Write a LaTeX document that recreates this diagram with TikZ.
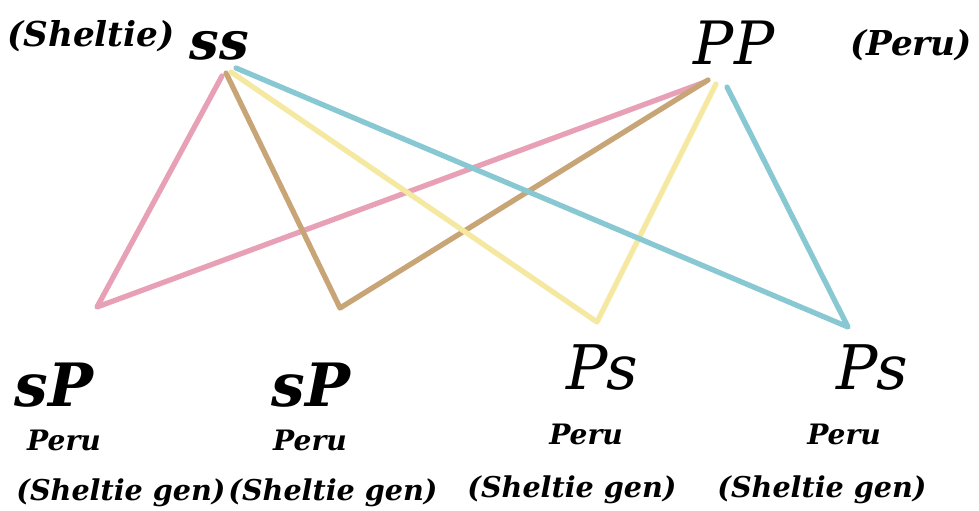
\documentclass[tikz,border=0pt]{standalone}
\usepackage{fontspec}
\setmainfont{DejaVu Serif}
\usepackage{xcolor}
\usetikzlibrary{positioning}

\definecolor{crossPink}{RGB}{232,160,182}
\definecolor{crossTan}{RGB}{200,165,118}
\definecolor{crossYellow}{RGB}{245,232,160}
\definecolor{crossBlue}{RGB}{135,200,210}

\begin{document}
\begin{tikzpicture}[
  x=0.02cm, y=-0.02cm,
  parent/.style ={font=\fontsize{30}{34}\selectfont\bfseries\itshape,inner sep=0pt},
  parentr/.style={font=\fontsize{34}{38}\selectfont\itshape,inner sep=0pt},
  child/.style  ={font=\fontsize{34}{38}\selectfont\bfseries\itshape,inner sep=0pt},
  childr/.style ={font=\fontsize{35}{38}\selectfont\itshape,inner sep=0pt},
  breed/.style  ={font=\fontsize{19.5}{24}\selectfont\bfseries\itshape,inner sep=0pt},
  look/.style   ={font=\fontsize{16}{19}\selectfont\bfseries\itshape,inner sep=0pt},
  gen/.style    ={font=\fontsize{16.3}{20}\selectfont\bfseries\itshape,inner sep=0pt},
  cross/.style  ={line width=3pt,line cap=round,line join=round}]

\fill[white] (0,0) rectangle (979,510);
\useasboundingbox (0,0) rectangle (979,510);

%---------------- parents ----------------
\node[breed]   (sheltie) at (91,36)  {(Sheltie)};
\node[parent]  (ss)      at (219,46) {ss};
\node[parentr] (PP)      at (734,43) {PP};
\node[breed]   (peru)    at (911,45) {(Peru)};

%---------------- offspring ----------------
\node[child]  (c1) at (54,385)  {sP};
\node[child]  (c2) at (311,385) {sP};
\node[childr] (c3) at (602,368) {Ps};
\node[childr] (c4) at (872,368) {Ps};

\node[look] (look1) at (64,440)  {Peru};
\node[look] (look2) at (310,440) {Peru};
\node[look] (look3) at (586,434) {Peru};
\node[look] (look4) at (844,434) {Peru};

\node[gen] (gen1) at (121,493) {(Sheltie gen)};
\node[gen] (gen2) at (333,493) {(Sheltie gen)};
\node[gen] (gen3) at (572,490) {(Sheltie gen)};
\node[gen] (gen4) at (822,490) {(Sheltie gen)};

%---------------- crossing lines ----------------
\coordinate (ss1) at (222,76);  \coordinate (pp1) at (705,82);  \coordinate (v1) at (97,307);
\coordinate (ss2) at (226,73);  \coordinate (pp2) at (708,80);  \coordinate (v2) at (340,308);
\coordinate (ss3) at (231,72);  \coordinate (pp3) at (716,84);  \coordinate (v3) at (597,322);
\coordinate (ss4) at (236,68);  \coordinate (pp4) at (727,87);  \coordinate (v4) at (848,327);

\draw[cross,crossPink]   (ss1) -- (v1) -- (pp1);
\draw[cross,crossTan]    (ss2) -- (v2) -- (pp2);
\draw[cross,crossYellow] (ss3) -- (v3) -- (pp3);
\draw[cross,crossBlue]   (ss4) -- (v4) -- (pp4);

\end{tikzpicture}
\end{document}
